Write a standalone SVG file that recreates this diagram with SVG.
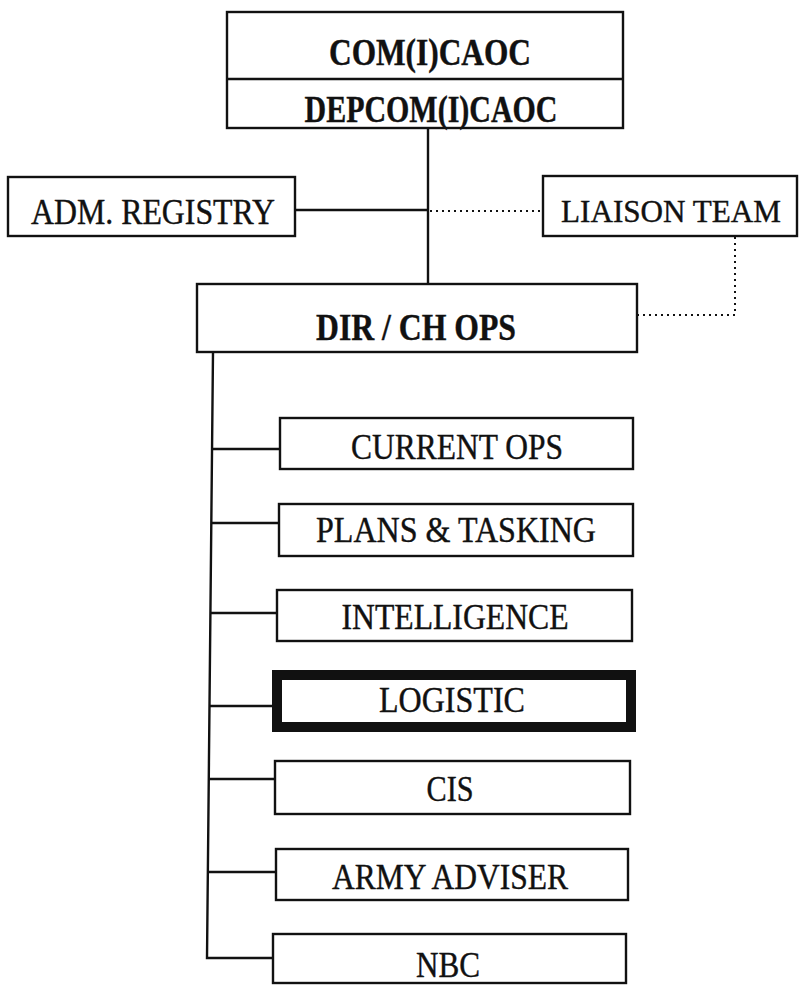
<svg xmlns="http://www.w3.org/2000/svg" width="805" height="985" viewBox="0 0 805 985">
<style>
.box{fill:#fff;stroke:#111;stroke-width:2.4}
.thick{fill:#fff;stroke:#111;stroke-width:10}
.ln{fill:none;stroke:#111;stroke-width:2.4}
.dot{fill:none;stroke:#111;stroke-width:2;stroke-dasharray:2 4}
.t{font-family:"Liberation Serif","Times New Roman",serif;font-size:35px;fill:#111;stroke:#111;stroke-width:0.4;text-anchor:middle}
.b{font-weight:bold;font-size:37px}
</style>
<rect width="805" height="985" fill="#fff"/>
<g id="connectors">
<line class="ln" x1="428" y1="128" x2="428" y2="284"/>
<line class="ln" x1="295" y1="210" x2="428" y2="210"/>
<line class="dot" x1="430" y1="211" x2="543" y2="211"/>
<polyline class="dot" points="735,237 735,315 637,315"/>
<polyline class="ln" points="213,352 207,958 273,958"/>
<line class="ln" x1="213" y1="449" x2="280" y2="449"/>
<line class="ln" x1="212" y1="523" x2="279" y2="523"/>
<line class="ln" x1="211" y1="613" x2="277" y2="613"/>
<line class="ln" x1="210" y1="706" x2="272" y2="706"/>
<line class="ln" x1="209" y1="779" x2="275" y2="779"/>
<line class="ln" x1="208" y1="872" x2="276" y2="872"/>
</g>
<g id="com">
<rect class="box" x="227" y="12" width="396" height="116"/>
<line class="ln" x1="227" y1="79" x2="623" y2="79"/>
<text class="t b" x="430" y="65" textLength="202" lengthAdjust="spacingAndGlyphs">COM(I)CAOC</text>
<text class="t b" x="431" y="122" textLength="253" lengthAdjust="spacingAndGlyphs">DEPCOM(I)CAOC</text>
</g>
<g id="adm">
<rect class="box" x="8" y="177" width="287" height="59"/>
<text class="t" x="153" y="224" textLength="244" lengthAdjust="spacingAndGlyphs">ADM. REGISTRY</text>
</g>
<g id="liaison">
<rect class="box" x="543" y="176" width="254" height="60"/>
<text class="t" x="671" y="222" style="font-size:32.5px" textLength="220" lengthAdjust="spacingAndGlyphs">LIAISON TEAM</text>
</g>
<g id="dir">
<rect class="box" x="197" y="284" width="440" height="68"/>
<text class="t b" x="416" y="340" textLength="200" lengthAdjust="spacingAndGlyphs">DIR / CH OPS</text>
</g>
<g id="current">
<rect class="box" x="280" y="418" width="353" height="51"/>
<text class="t" x="457" y="459" textLength="212" lengthAdjust="spacingAndGlyphs">CURRENT OPS</text>
</g>
<g id="plans">
<rect class="box" x="279" y="504" width="354" height="52"/>
<text class="t" x="456" y="542" textLength="280" lengthAdjust="spacingAndGlyphs">PLANS &amp; TASKING</text>
</g>
<g id="intel">
<rect class="box" x="277" y="590" width="355" height="51"/>
<text class="t" x="455" y="629" textLength="227" lengthAdjust="spacingAndGlyphs">INTELLIGENCE</text>
</g>
<g id="logistic">
<rect class="thick" x="277" y="675" width="354" height="52"/>
<text class="t" x="452" y="712" textLength="146" lengthAdjust="spacingAndGlyphs">LOGISTIC</text>
</g>
<g id="cis">
<rect class="box" x="275" y="761" width="355" height="53"/>
<text class="t" x="450" y="801" textLength="47" lengthAdjust="spacingAndGlyphs">CIS</text>
</g>
<g id="army">
<rect class="box" x="276" y="849" width="352" height="51"/>
<text class="t" x="450" y="889" textLength="236" lengthAdjust="spacingAndGlyphs">ARMY ADVISER</text>
</g>
<g id="nbc">
<rect class="box" x="273" y="934" width="353" height="49"/>
<text class="t" x="448" y="977" textLength="64" lengthAdjust="spacingAndGlyphs">NBC</text>
</g>
</svg>
